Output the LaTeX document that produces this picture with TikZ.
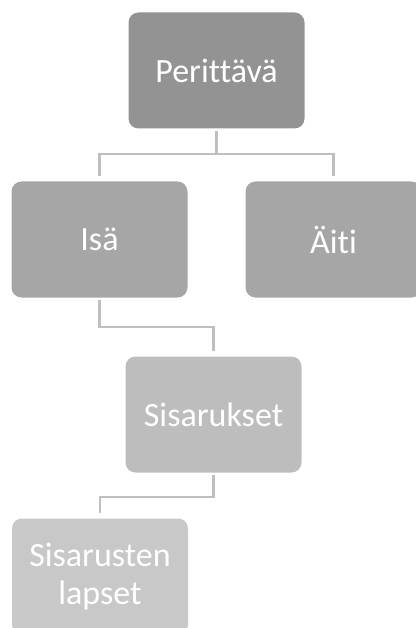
\documentclass[tikz,border=0pt]{standalone}
\usepackage{fontspec}
\setmainfont[Ligatures=CommonOff]{Carlito}
\usetikzlibrary{calc}
\definecolor{lvA}{RGB}{147,147,147}
\definecolor{lvB}{RGB}{166,166,166}
\definecolor{lvC}{RGB}{189,189,189}
\definecolor{lvD}{RGB}{200,200,200}
\definecolor{connc}{RGB}{191,191,191}
\begin{document}
\begin{tikzpicture}[x=1pt,y=-1pt,
  box/.style={rectangle, rounded corners=10pt, inner sep=0pt, text=white,
    minimum width=176pt, minimum height=116pt, align=center,
    font=\fontsize{34}{38}\selectfont},
  conn/.style={draw=connc, line width=2.2pt, shorten <=2pt, shorten >=5pt}]
\useasboundingbox (0,0) rectangle (415,628);
\node[box, fill=lvA] (per) at (216.5,70.5) {Perittävä};
\node[box, fill=lvB] (isa) at (99.5,239.5) {Isä};
\node[box, fill=lvB] (aiti) at (333.5,239.5) {Äiti};
\node[box, fill=lvC] (sis) at (213.5,414.5) {Sisarukset};
\node[box, fill=lvD] (lap) at (100,576.5) {Sisarusten\\lapset};
\draw[conn] (per.south) -- (per.south |- 0,154) -| (isa.north);
\draw[conn] (per.south) -- (per.south |- 0,154) -| (aiti.north);
\draw[conn] (isa.south) -- (isa.south |- 0,327) -| (sis.north);
\draw[conn] (sis.south) -- (sis.south |- 0,497) -| (lap.north);
\end{tikzpicture}
\end{document}
